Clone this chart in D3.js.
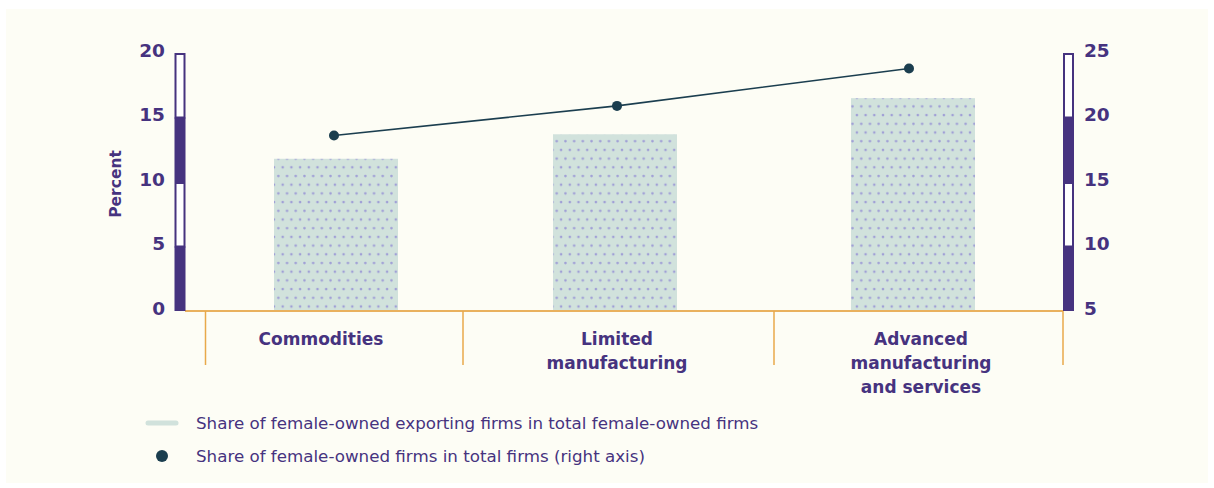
<!DOCTYPE html>
<html><head><meta charset="utf-8">
<script src="https://cdn.jsdelivr.net/npm/d3@7"></script>
<style>html,body{margin:0;padding:0;background:#fff;}svg{display:block;}</style>
</head><body>
<script>
const categories = ["Commodities", "Limited manufacturing", "Advanced manufacturing and services"];
const categoryLines = [["Commodities"], ["Limited", "manufacturing"], ["Advanced", "manufacturing", "and services"]];
const exportShare = [11.8, 13.7, 16.5];      // left axis, bars
const firmShare = [18.6, 20.9, 23.8];        // right axis, line
const leftTicks = [0, 5, 10, 15, 20];
const rightTicks = [5, 10, 15, 20, 25];
const legendLabels = ["Share of female-owned exporting firms in total female-owned firms",
                      "Share of female-owned firms in total firms (right axis)"];

const W = 1214, H = 488;
const purple = "#46337f", orange = "#e9b15e", barFill = "#d1e2dc", dotCol = "#a09fd6", lineCol = "#1b3e4f";
const font = "'DejaVu Sans', sans-serif";

const svg = d3.select("body").append("svg").attr("width", W).attr("height", H);
svg.append("rect").attr("x", 6).attr("y", 9).attr("width", 1202).attr("height", 474).attr("fill", "#fdfdf5");

const defs = svg.append("defs");
const pat = defs.append("pattern").attr("id", "dots").attr("patternUnits", "userSpaceOnUse")
  .attr("width", 8.7).attr("height", 17.4).attr("x", 274).attr("y", 0);
pat.append("rect").attr("width", 8.7).attr("height", 17.4).attr("fill", barFill);
pat.append("circle").attr("cx", 4.35).attr("cy", 2).attr("r", 1.3).attr("fill", dotCol);
pat.append("circle").attr("cx", 0).attr("cy", 10.7).attr("r", 1.3).attr("fill", dotCol);
pat.append("circle").attr("cx", 8.7).attr("cy", 10.7).attr("r", 1.3).attr("fill", dotCol);

const yL = d3.scaleLinear().domain([0, 20]).range([311, 53]);
const yR = d3.scaleLinear().domain([5, 25]).range([311, 53]);
// piecewise category scale (index -> x); half indices are boundaries
const xs = d3.scaleLinear().domain([-0.5, 0, 0.5, 1, 1.5, 2, 2.5]).range([205.5, 336, 463, 615, 774, 913, 1063]);
const barW = 124;

// bars
svg.append("g").selectAll("rect").data(exportShare).join("rect")
  .attr("x", (d, i) => xs(i) - barW / 2).attr("width", barW)
  .attr("y", d => yL(d)).attr("height", d => yL(0) - yL(d))
  .attr("fill", "url(#dots)");

// baseline & dividers
svg.append("line").attr("x1", 185).attr("x2", 1063).attr("y1", yL(0)).attr("y2", yL(0))
  .attr("stroke", orange).attr("stroke-width", 2);
svg.append("g").selectAll("line").data([-0.5, 0.5, 1.5, 2.5]).join("line")
  .attr("x1", d => xs(d)).attr("x2", d => xs(d)).attr("y1", yL(0)).attr("y2", 365)
  .attr("stroke", "#e8a94a").attr("stroke-width", 1.5);

// axis bars (alternating filled/hollow segments)
function axisBar(scale, ticks, x) {
  const g = svg.append("g");
  const segs = d3.pairs(ticks);
  g.selectAll("rect").data(segs).join("rect")
    .attr("x", (d, i) => i % 2 === 0 ? x : x + 1)
    .attr("width", (d, i) => i % 2 === 0 ? 11 : 9)
    .attr("y", (d, i) => scale(d[1]) + (i % 2 === 0 ? 0 : 1))
    .attr("height", (d, i) => scale(d[0]) - scale(d[1]) - (i % 2 === 0 ? 0 : 1))
    .attr("fill", (d, i) => i % 2 === 0 ? purple : "#ffffff")
    .attr("stroke", (d, i) => i % 2 === 0 ? "none" : purple)
    .attr("stroke-width", 2);
}
axisBar(yL, leftTicks, 174.5);
axisBar(yR, rightTicks, 1063);

// tick labels
svg.append("g").selectAll("text").data(leftTicks).join("text")
  .attr("x", 165).attr("y", d => yL(d) - 3).attr("dy", "0.36em").attr("text-anchor", "end")
  .attr("font-family", font).attr("font-weight", 700).attr("font-size", 18.5).attr("fill", purple)
  .text(d => d);
svg.append("g").selectAll("text").data(rightTicks).join("text")
  .attr("x", 1084).attr("y", d => yR(d) - 3).attr("dy", "0.36em").attr("text-anchor", "start")
  .attr("font-family", font).attr("font-weight", 700).attr("font-size", 18.5).attr("fill", purple)
  .text(d => d);

svg.append("text").attr("transform", "translate(121,184) rotate(-90)").attr("text-anchor", "middle")
  .attr("font-family", font).attr("font-weight", 700).attr("font-size", 15.5).attr("fill", purple)
  .text("Percent");

// category labels
const labelShift = [-15, 2, 8];
const lab = svg.append("g").selectAll("text").data(categoryLines).join("text")
  .attr("text-anchor", "middle").attr("font-family", font).attr("font-weight", 700)
  .attr("font-size", 17).attr("fill", purple);
lab.selectAll("tspan").data((d, i) => d.map(t => ({ t, i }))).join("tspan")
  .attr("x", d => xs(d.i) + labelShift[d.i]).attr("y", (d, j) => 345 + j * 24).text(d => d.t);

// line
const pts = firmShare.map((v, i) => [xs(i) + [-2, 2, -4][i], yR(v)]);
svg.append("path").attr("d", d3.line()(pts)).attr("fill", "none").attr("stroke", lineCol).attr("stroke-width", 1.6);
svg.append("g").selectAll("circle").data(pts).join("circle")
  .attr("cx", d => d[0]).attr("cy", d => d[1]).attr("r", 5).attr("fill", lineCol);

// legend
svg.append("line").attr("x1", 148).attr("x2", 176).attr("y1", 423).attr("y2", 423)
  .attr("stroke", barFill).attr("stroke-width", 5).attr("stroke-linecap", "round");
svg.append("circle").attr("cx", 162).attr("cy", 456).attr("r", 6).attr("fill", lineCol);
svg.append("g").selectAll("text").data(legendLabels).join("text")
  .attr("x", 196).attr("y", (d, i) => 423 + i * 33).attr("dy", "0.35em")
  .attr("font-family", font).attr("font-size", 16.7).attr("fill", purple)
  .text(d => d);
</script>
</body></html>
